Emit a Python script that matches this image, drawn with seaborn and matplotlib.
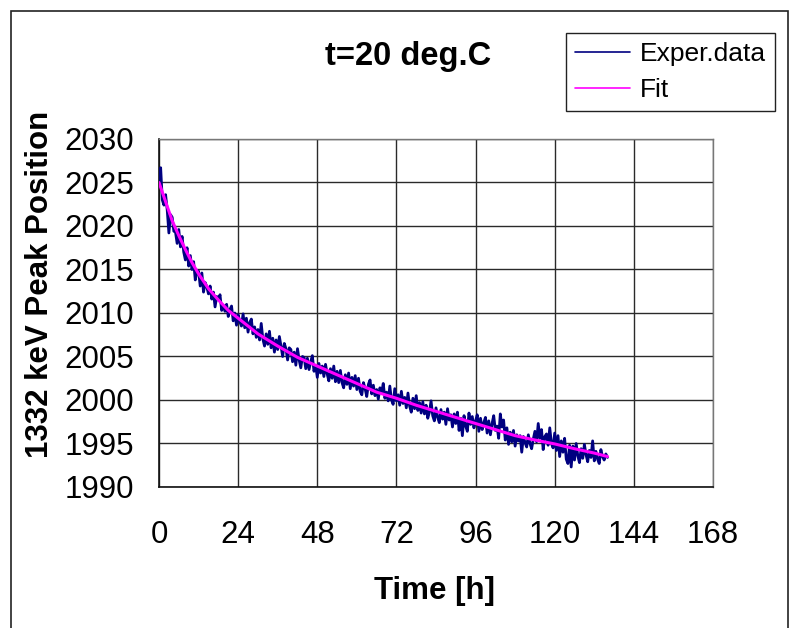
import numpy as np
import pandas as pd
import matplotlib
matplotlib.use("Agg")
import matplotlib.pyplot as plt
import seaborn as sns
from matplotlib.patches import Rectangle

# ---------------- data ----------------
sample_interval_h = 0.5
exper_values = [
    2024.6, 2026.7, 2023.0, 2022.4, 2023.6, 2021.8, 2019.2, 2021.3, 2021.0, 2019.4,
    2019.3, 2018.0, 2019.6, 2017.6, 2018.8, 2017.0, 2016.1, 2017.5, 2015.4, 2016.6,
    2015.0, 2015.9, 2013.8, 2014.9, 2014.8, 2013.1, 2014.6, 2012.4, 2013.5, 2013.0,
    2012.2, 2013.1, 2011.6, 2012.4, 2010.7, 2011.9, 2011.5, 2012.1, 2010.3, 2010.9,
    2010.2, 2011.0, 2009.6, 2010.4, 2010.8, 2009.1, 2010.0, 2008.6, 2009.8, 2009.0,
    2008.5, 2009.9, 2008.3, 2009.4, 2007.8, 2008.9, 2009.3, 2007.6, 2008.4, 2007.2,
    2008.1, 2006.9, 2008.8, 2007.0, 2006.2, 2007.6, 2006.4, 2007.9, 2006.0, 2007.1,
    2005.5, 2006.9, 2005.8, 2007.3, 2006.2, 2005.0, 2006.5, 2005.9, 2004.6, 2006.0,
    2005.8, 2004.4, 2005.5, 2004.0, 2005.9, 2004.6, 2003.7, 2005.0, 2004.9, 2003.6,
    2004.8, 2003.5, 2004.4, 2005.1, 2003.3, 2004.0, 2002.6, 2004.2, 2003.1, 2003.9,
    2002.7, 2004.1, 2003.0, 2002.2, 2003.6, 2002.5, 2003.9, 2002.1, 2003.3, 2002.0,
    2003.4, 2002.0, 2001.4, 2002.9, 2001.8, 2003.1, 2001.3, 2002.6, 2001.6, 2002.8,
    2001.2, 2002.5, 2001.0, 2000.6, 2002.0, 2001.3, 2000.4, 2001.8, 2002.3, 2000.7,
    2001.7, 2000.5, 2001.2, 2000.1, 2001.4, 2000.8, 2001.9, 2000.2, 2000.9, 1999.9,
    2001.6, 2000.0, 1999.5, 2001.3, 1999.9, 2000.6, 1999.4, 2001.0, 1999.6, 2000.3,
    1999.1, 2000.8, 1999.3, 1998.6, 2000.2, 1999.0, 2000.5, 1998.8, 1999.7, 1998.5,
    1999.8, 1998.4, 1999.4, 1997.9, 1998.6, 1999.9, 1998.2, 1997.6, 1999.1, 1998.0,
    1997.4, 1998.9, 1997.8, 1998.6, 1997.2, 1999.0, 1997.7, 1998.3, 1996.9, 1998.4,
    1997.3, 1998.6, 1996.5, 1997.9, 1995.9, 1998.2, 1997.0, 1996.4, 1998.5, 1997.2,
    1998.1, 1996.8, 1997.6, 1998.3, 1996.4, 1997.9, 1996.6, 1997.4, 1998.0, 1996.2,
    1997.6, 1996.0, 1997.3, 1998.2, 1996.5, 1997.0, 1995.6, 1998.4, 1996.9, 1997.7,
    1995.4, 1996.8, 1994.9, 1996.3, 1995.2, 1996.5, 1994.7, 1996.0, 1995.3, 1995.9,
    1994.0, 1995.8, 1995.1, 1994.6, 1996.0, 1995.0, 1994.4, 1995.5, 1996.4, 1995.2,
    1997.3, 1995.6, 1996.6, 1994.3, 1995.8, 1996.1, 1994.8, 1996.8, 1995.0, 1994.5,
    1996.2, 1994.2, 1995.9, 1993.5, 1995.3, 1994.0, 1995.6, 1993.2, 1992.7, 1994.8,
    1992.3, 1994.7, 1993.1, 1995.0, 1993.6, 1992.8, 1994.4, 1993.3, 1994.9, 1993.7,
    1992.9, 1994.2, 1993.4, 1995.3, 1993.0, 1994.1, 1993.2, 1992.7, 1994.3, 1993.5,
    1993.1, 1993.8, 1993.4,
]
exper_time_h = np.arange(len(exper_values)) * sample_interval_h

fit_time_h = [0, 2, 4, 6, 8, 10, 12, 15, 18, 21, 24, 30, 36, 42, 48, 54, 60, 66,
              72, 78, 84, 90, 96, 102, 108, 114, 120, 126, 132, 136]
fit_values = [2025.0, 2022.8, 2020.6, 2018.9, 2017.3, 2015.8, 2014.5, 2012.8,
              2011.5, 2010.3, 2009.4, 2007.6, 2006.2, 2004.9, 2003.9, 2002.9,
              2001.9, 2000.9, 2000.2, 1999.4, 1998.7, 1998.0, 1997.3, 1996.6,
              1995.9, 1995.4, 1994.95, 1994.4, 1993.9, 1993.5]

x_ticks = [0, 24, 48, 72, 96, 120, 144, 168]
y_ticks = [1990, 1995, 2000, 2005, 2010, 2015, 2020, 2025, 2030]

title_text = "t=20 deg.C"
x_label = "Time [h]"
y_label = "1332 keV Peak Position"
series_names = ["Exper.data", "Fit"]

exp_df = pd.DataFrame({"time": exper_time_h, "value": exper_values})
fit_df = pd.DataFrame({"time": fit_time_h, "value": fit_values})

# ---------------- style ----------------
sns.set_style("white")
plt.rcParams["font.family"] = ["Liberation Sans", "DejaVu Sans"]
plt.rcParams["text.color"] = "black"
plt.rcParams["axes.labelcolor"] = "black"
plt.rcParams["xtick.color"] = "black"
plt.rcParams["ytick.color"] = "black"

W, H = 791, 628
fig = plt.figure(figsize=(W / 100, H / 100), dpi=100)
left, right, top, bottom = 159, 713, 139, 487
ax = fig.add_axes([left / W, 1 - bottom / H, (right - left) / W, (bottom - top) / H])

sns.lineplot(data=exp_df, x="time", y="value", ax=ax, color="#000080",
             linewidth=2.0, label=series_names[0], zorder=3)
sns.lineplot(data=fit_df, x="time", y="value", ax=ax, color="#FF00FF",
             linewidth=2.2, label=series_names[1], zorder=4)

ax.set_xlim(0, 168)
ax.set_ylim(1990, 2030)
ax.set_xticks(x_ticks)
ax.set_yticks(y_ticks)
ax.grid(True, color="#2a2a2a", linewidth=1.0)
ax.set_axisbelow(True)
for s in ["top", "right"]:
    ax.spines[s].set_color("#777777")
    ax.spines[s].set_linewidth(1.0)
for s in ["left", "bottom"]:
    ax.spines[s].set_color("#111111")
    ax.spines[s].set_linewidth(1.2)

ax.tick_params(axis="both", direction="out", length=7, width=1.0,
               color="#333333", labelsize=22.5, labelcolor="black")
ax.tick_params(axis="y", pad=11)
ax.tick_params(axis="x", pad=17)

ax.set_xlabel(x_label, fontsize=22.5, fontweight="bold", color="black")
ax.set_ylabel(y_label, fontsize=22.5, fontweight="bold", color="black")
ax.xaxis.label.set_va("center")
ax.yaxis.label.set_va("center")
ax.xaxis.set_label_coords((435 - left) / (right - left), (bottom - 591) / (bottom - top))
ax.yaxis.set_label_coords((40 - left) / (right - left), (bottom - 284) / (bottom - top))

fig.text(408 / W, 1 - 65 / H, title_text, fontsize=23.5, fontweight="bold",
         ha="center", va="baseline", color="black")

leg = ax.legend(loc="upper right", bbox_to_anchor=(775 / W, 1 - 33 / H),
                bbox_transform=fig.transFigure, fontsize=19, frameon=True,
                fancybox=False, framealpha=1, edgecolor="#222222",
                handlelength=2.1, handletextpad=0.35, labelspacing=0.45,
                borderpad=0.35, borderaxespad=0)
leg.get_frame().set_linewidth(1.0)
for line in leg.get_lines():
    line.set_linewidth(1.2)
for txt in leg.get_texts():
    txt.set_color("black")

# outer chart border
fig.patches.append(Rectangle((11 / W, -0.05), (788 - 11) / W, 1.05 - 11 / H,
                             transform=fig.transFigure, fill=False,
                             edgecolor="#222222", linewidth=1.2))

fig.savefig("out.png", dpi=100)
